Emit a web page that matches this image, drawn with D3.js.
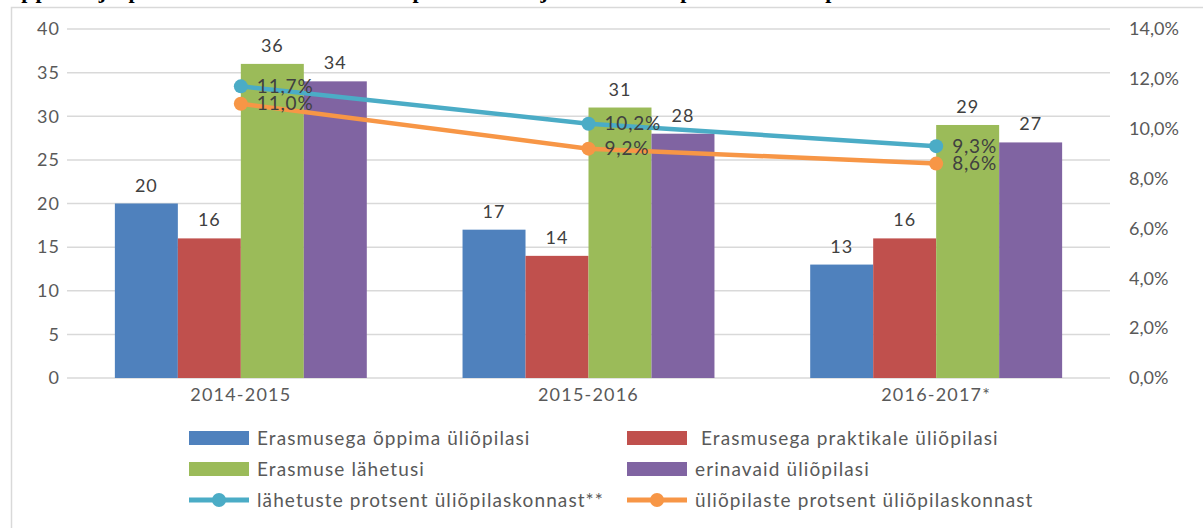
<!DOCTYPE html>
<html>
<head>
<meta charset="utf-8">
<script src="https://cdn.jsdelivr.net/npm/d3@7"></script>
<style>
  body { margin: 0; background: #fff; }
  svg { display: block; font-family: Lato, "Open Sans", sans-serif; }
</style>
</head>
<body>
<svg id="chart" width="1203" height="528"></svg>
<script>
const categories = ["2014-2015", "2015-2016", "2016-2017*"];
const barSeries = [
  { name: "Erasmusega õppima üliõpilasi", color: "#4F81BD", values: [20, 17, 13] },
  { name: " Erasmusega praktikale üliõpilasi", color: "#C0504D", values: [16, 14, 16] },
  { name: "Erasmuse lähetusi", color: "#9BBB59", values: [36, 31, 29] },
  { name: "erinavaid üliõpilasi", color: "#8064A2", values: [34, 28, 27] }
];
const lineSeries = [
  { name: "lähetuste protsent üliõpilaskonnast**", color: "#4BACC6", values: [11.7, 10.2, 9.3] },
  { name: "üliõpilaste protsent üliõpilaskonnast", color: "#F79646", values: [11.0, 9.2, 8.6] }
];
const leftTicks = [0, 5, 10, 15, 20, 25, 30, 35, 40];
const rightTicks = [0, 2, 4, 6, 8, 10, 12, 14];

const svg = d3.select("#chart");
const fmtPct = v => v.toFixed(1).replace(".", ",") + "%";

// title, mostly cut off at the top edge
svg.append("text")
  .attr("x", 2).attr("y", -2)
  .attr("font-family", "'Liberation Serif', serif")
  .attr("font-weight", "bold")
  .attr("font-size", 22)
  .attr("textLength", 1085)
  .attr("lengthAdjust", "spacing")
  .attr("fill", "#000")
  .text("Õppima ja praktikale lähetatud üliõpilaste arv ja lähetuste protsent üliõpilaskonnast 2014-2017");

// chart area border
svg.append("rect")
  .attr("x", 11.5).attr("y", 7.5)
  .attr("width", 1210).attr("height", 540)
  .attr("fill", "none")
  .attr("stroke", "#d9d9d9")
  .attr("stroke-width", 1.5);

const plot = { left: 67, right: 1110, top: 29, bottom: 378 };

const x = d3.scaleBand().domain(categories).range([plot.left, plot.right]);
const y = d3.scaleLinear().domain([0, 40]).range([plot.bottom, plot.top]);
const y2 = d3.scaleLinear().domain([0, 14]).range([plot.bottom, plot.top]);
const xs = d3.scaleBand().domain(barSeries.map(s => s.name)).range([0, x.bandwidth()]).paddingOuter(0.76);

// gridlines
svg.append("g").selectAll("line")
  .data(leftTicks).enter().append("line")
  .attr("x1", plot.left).attr("x2", plot.right)
  .attr("y1", d => y(d)).attr("y2", d => y(d))
  .attr("stroke", "#d9d9d9").attr("stroke-width", 1.5);

// left axis labels
svg.append("g").selectAll("text")
  .data(leftTicks).enter().append("text")
  .attr("x", 60).attr("y", d => y(d))
  .attr("dy", "0.35em")
  .attr("text-anchor", "end")
  .attr("font-size", 18).attr("letter-spacing", 1).attr("fill", "#595959")
  .text(d => d);

// right axis labels
svg.append("g").selectAll("text")
  .data(rightTicks).enter().append("text")
  .attr("x", 1129).attr("y", d => y2(d))
  .attr("dy", "0.35em")
  .attr("font-size", 18).attr("fill", "#595959")
  .text(d => d.toFixed(1).replace(".", ",") + "%");

// category labels
svg.append("g").selectAll("text")
  .data(categories).enter().append("text")
  .attr("x", d => x(d) + x.bandwidth() / 2).attr("y", 395)
  .attr("dy", "0.35em")
  .attr("text-anchor", "middle")
  .attr("font-size", 18).attr("letter-spacing", 1.2).attr("fill", "#595959")
  .text(d => d);

// bars
barSeries.forEach(s => {
  const g = svg.append("g");
  g.selectAll("rect")
    .data(s.values).enter().append("rect")
    .attr("x", (d, i) => x(categories[i]) + xs(s.name))
    .attr("y", d => y(d))
    .attr("width", xs.bandwidth())
    .attr("height", d => y(0) - y(d))
    .attr("fill", s.color);
  g.selectAll("text")
    .data(s.values).enter().append("text")
    .attr("x", (d, i) => x(categories[i]) + xs(s.name) + xs.bandwidth() / 2)
    .attr("y", d => y(d) - 12)
    .attr("text-anchor", "middle")
    .attr("font-size", 18).attr("letter-spacing", 1).attr("fill", "#404040")
    .text(d => d);
});

// lines
const cx = (d, i) => x(categories[i]) + x.bandwidth() / 2;
lineSeries.forEach(s => {
  const line = d3.line().x(cx).y(d => y2(d));
  svg.append("path")
    .datum(s.values)
    .attr("d", line)
    .attr("fill", "none")
    .attr("stroke", s.color)
    .attr("stroke-width", 4.5)
    .attr("stroke-linecap", "round");
  svg.append("g").selectAll("circle")
    .data(s.values).enter().append("circle")
    .attr("cx", cx).attr("cy", d => y2(d))
    .attr("r", 7)
    .attr("fill", s.color);
});
lineSeries.forEach(s => {
  svg.append("g").selectAll("text")
    .data(s.values).enter().append("text")
    .attr("x", (d, i) => cx(d, i) + 16)
    .attr("y", d => y2(d))
    .attr("dy", "0.35em")
    .attr("font-size", 19).attr("letter-spacing", 0.8).attr("fill", "#404040")
    .text(fmtPct);
});

// legend
const legendItems = [
  { s: barSeries[0], type: "bar" }, { s: barSeries[1], type: "bar" },
  { s: barSeries[2], type: "bar" }, { s: barSeries[3], type: "bar" },
  { s: lineSeries[0], type: "line" }, { s: lineSeries[1], type: "line" }
];
const colX = [189, 627];
const rowY = [438, 469, 500];
legendItems.forEach((item, i) => {
  const lx = colX[i % 2];
  const ly = rowY[Math.floor(i / 2)];
  const g = svg.append("g").attr("transform", `translate(${lx},${ly})`);
  if (item.type === "bar") {
    g.append("rect").attr("x", 0).attr("y", -7).attr("width", 60).attr("height", 14).attr("fill", item.s.color);
  } else {
    g.append("line").attr("x1", 0).attr("x2", 60).attr("y1", 0).attr("y2", 0)
      .attr("stroke", item.s.color).attr("stroke-width", 5);
    g.append("circle").attr("cx", 30).attr("cy", 0).attr("r", 7).attr("fill", item.s.color);
  }
  g.append("text")
    .attr("x", 68).attr("y", 0).attr("dy", "0.35em")
    .attr("font-size", 19).attr("letter-spacing", 1.1).attr("fill", "#595959")
    .style("white-space", "pre")
    .text(item.s.name);
});
</script>
</body>
</html>
